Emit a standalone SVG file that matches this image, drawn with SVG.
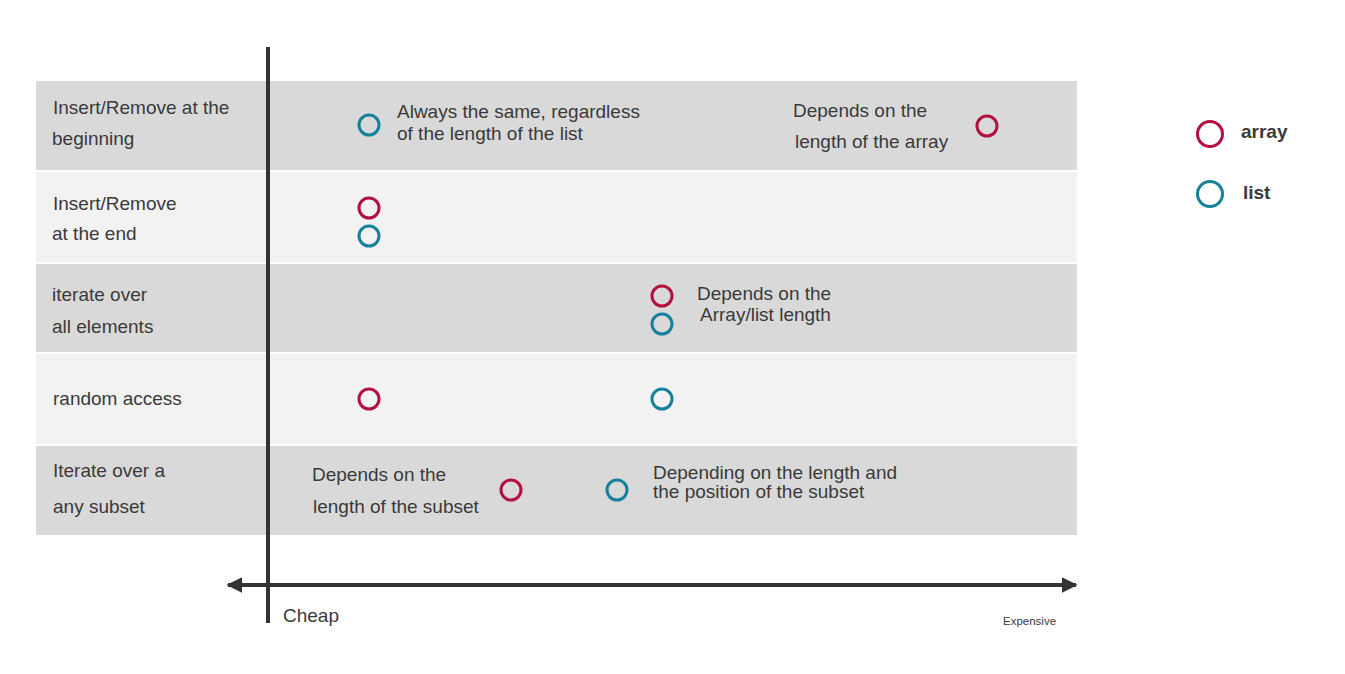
<svg xmlns="http://www.w3.org/2000/svg" width="1345" height="674" viewBox="0 0 1345 674">
<style>
text{font-family:"Liberation Sans",Arial,sans-serif;font-size:19px;fill:#3a3a3a}
.dark{fill:#d9d9d9}
.light{fill:#f2f2f2}
.arr{fill:none;stroke:#b3103f;stroke-width:3}
.lst{fill:none;stroke:#15819b;stroke-width:3}
.axis{stroke:#333;stroke-width:4;fill:none}
.leg{font-weight:bold}
</style>
<defs>
<marker id="ah" viewBox="0 0 10 10" refX="9" refY="5" markerWidth="4" markerHeight="4" orient="auto-start-reverse" markerUnits="strokeWidth">
<path d="M0,0 L10,5 L0,10 Z" fill="#333"/>
</marker>
</defs>
<rect width="1345" height="674" fill="#fff"/>
<g id="row1"><rect class="dark" x="36" y="81" width="1041" height="89"/>
<text x="53" y="114">Insert/Remove at the</text><text x="52" y="145">beginning</text></g>
<g id="row2"><rect class="light" x="36" y="172" width="1041" height="90"/>
<text x="53" y="210">Insert/Remove</text><text x="52" y="240">at the end</text></g>
<g id="row3"><rect class="dark" x="36" y="264" width="1041" height="88"/>
<text x="52" y="301">iterate over</text><text x="52" y="333">all elements</text></g>
<g id="row4"><rect class="light" x="36" y="354" width="1041" height="90"/>
<text x="53" y="405">random access</text></g>
<g id="row5"><rect class="dark" x="36" y="446" width="1041" height="89"/>
<text x="53" y="477">Iterate over a</text><text x="53" y="513">any subset</text></g>
<g id="connectors">
<line class="axis" x1="268" y1="47" x2="268" y2="623"/>
<line class="axis" x1="228" y1="585" x2="1076" y2="585" marker-start="url(#ah)" marker-end="url(#ah)"/>
</g>
<g id="axis-labels">
<text x="283" y="622">Cheap</text>
<text x="1003" y="625" style="font-size:11.5px">Expensive</text>
</g>
<g id="row1-points">
<circle class="lst" cx="369" cy="125" r="10"/>
<text x="397" y="118">Always the same, regardless</text>
<text x="397" y="140">of the length of the list</text>
<text x="793" y="117">Depends on the</text>
<text x="795" y="148">length of the array</text>
<circle class="arr" cx="987" cy="126" r="10"/>
</g>
<g id="row2-points">
<circle class="arr" cx="369" cy="208" r="10"/>
<circle class="lst" cx="369" cy="236" r="10"/>
</g>
<g id="row3-points">
<circle class="arr" cx="662" cy="296" r="10"/>
<circle class="lst" cx="662" cy="324" r="10"/>
<text x="697" y="300">Depends on the</text>
<text x="700" y="321">Array/list length</text>
</g>
<g id="row4-points">
<circle class="arr" cx="369" cy="399" r="10"/>
<circle class="lst" cx="662" cy="399" r="10"/>
</g>
<g id="row5-points">
<text x="312" y="481">Depends on the</text>
<text x="313" y="513">length of the subset</text>
<circle class="arr" cx="511" cy="490" r="10"/>
<circle class="lst" cx="617" cy="490" r="10"/>
<text x="653" y="479">Depending on the length and</text>
<text x="653" y="498">the position of the subset</text>
</g>
<g id="legend">
<circle class="arr" cx="1210" cy="134" r="12.5"/>
<text class="leg" x="1241" y="138">array</text>
<circle class="lst" cx="1210" cy="194" r="12.5"/>
<text class="leg" x="1243" y="199">list</text>
</g>
</svg>
